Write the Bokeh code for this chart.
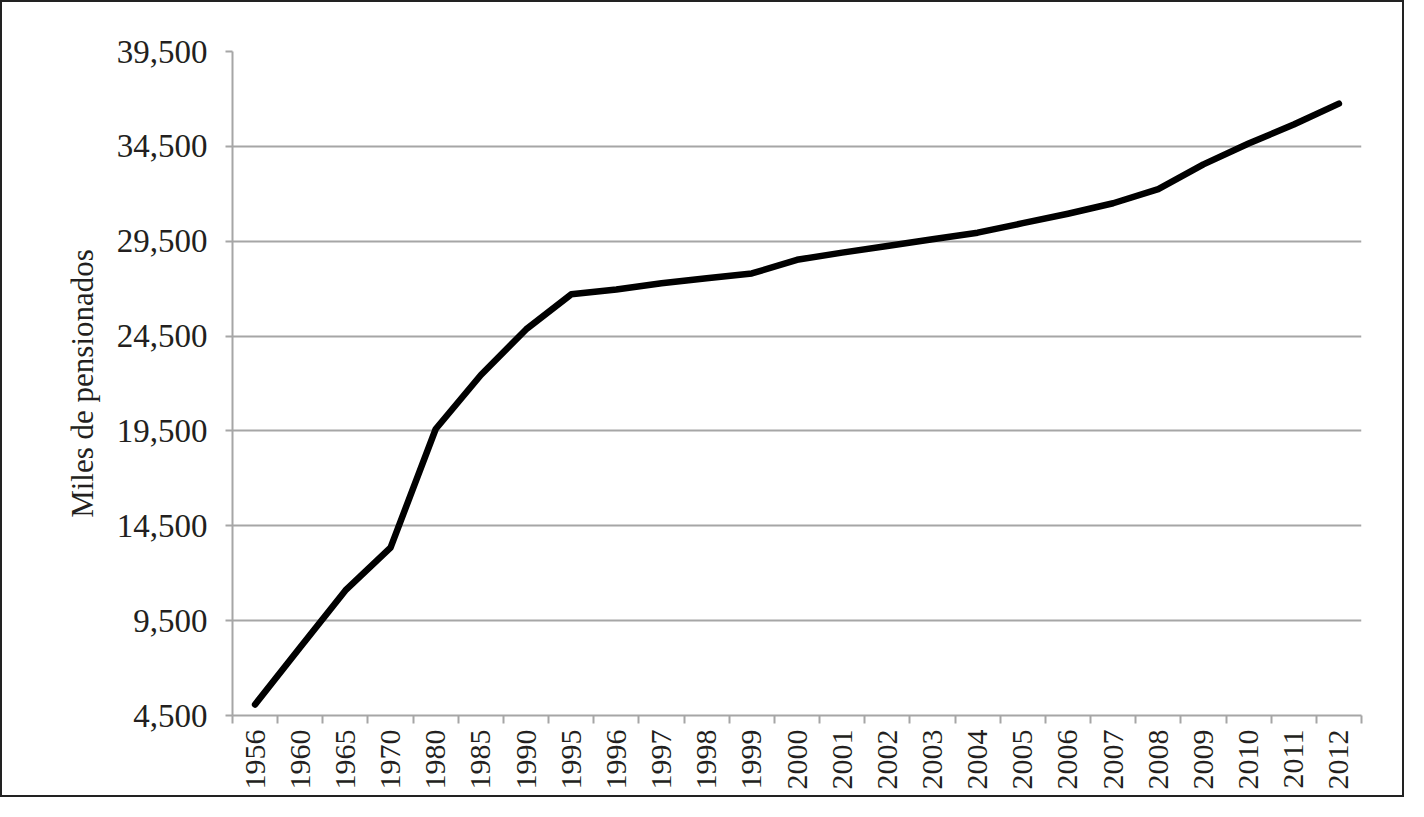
from bokeh.plotting import figure
from bokeh.models import FixedTicker, NumeralTickFormatter, Range1d, ColumnDataSource
from bokeh.embed import file_html
from bokeh.resources import INLINE

years = ["1956", "1960", "1965", "1970", "1980", "1985", "1990", "1995", "1996",
         "1997", "1998", "1999", "2000", "2001", "2002", "2003", "2004", "2005",
         "2006", "2007", "2008", "2009", "2010", "2011", "2012"]
pensionados = [5080, 8100, 11090, 13350, 19600, 22450, 24850, 26700, 26950,
               27280, 27550, 27800, 28520, 28900, 29250, 29600, 29950, 30450,
               30950, 31500, 32250, 33550, 34650, 35650, 36750]
y_ticks = [4500, 9500, 14500, 19500, 24500, 29500, 34500, 39500]

n = len(years)
xpos = [i + 0.5 for i in range(n)]
src = ColumnDataSource(data=dict(x=xpos, y=pensionados, year=years))

FONT = "Liberation Serif"
TXT = "#231f20"
GRID = "#a6a6a6"

p = figure(width=1404, height=797, output_backend="svg", toolbar_location=None,
           x_range=Range1d(0, n), y_range=Range1d(4500, 39500),
           min_border_left=230, min_border_right=45, min_border_top=49, min_border_bottom=84)
p.outline_line_color = None
p.background_fill_color = "white"
p.border_fill_color = "white"
p.styles = {"border": "2px solid #222222"}

p.line("x", "y", source=src, line_color="black", line_width=6.5, line_cap="round", line_join="round")

# x axis: labels at category centres, ticks at category boundaries
p.xaxis.ticker = FixedTicker(ticks=xpos, minor_ticks=list(range(n + 1)))
p.xaxis.major_label_overrides = {x: y for x, y in zip(xpos, years)}
p.xaxis.major_label_orientation = 1.5708
p.xaxis.major_tick_out = 0
p.xaxis.major_tick_in = 0
p.xaxis.minor_tick_out = 8
p.xaxis.minor_tick_in = 0
p.xaxis.minor_tick_line_color = GRID
p.xaxis.minor_tick_line_width = 2
p.xaxis.axis_line_color = GRID
p.xaxis.axis_line_width = 2
p.xaxis.major_label_text_font = FONT
p.xaxis.major_label_text_font_size = "30px"
p.xaxis.major_label_text_color = TXT
p.xaxis.major_label_standoff = 6

p.yaxis.ticker = FixedTicker(ticks=y_ticks)
p.yaxis.formatter = NumeralTickFormatter(format="0,0")
p.yaxis.major_tick_out = 7
p.yaxis.major_tick_in = 0
p.yaxis.major_tick_line_color = GRID
p.yaxis.major_tick_line_width = 2
p.yaxis.minor_tick_line_color = None
p.yaxis.axis_line_color = GRID
p.yaxis.axis_line_width = 2
p.yaxis.major_label_text_font = FONT
p.yaxis.major_label_text_font_size = "33px"
p.yaxis.major_label_text_color = TXT
p.yaxis.major_label_standoff = 18
p.yaxis.axis_label = "Miles de pensionados"
p.yaxis.axis_label_text_font = FONT
p.yaxis.axis_label_text_font_size = "31px"
p.yaxis.axis_label_text_font_style = "normal"
p.yaxis.axis_label_text_color = TXT
p.yaxis.axis_label_standoff = 14

p.xgrid.grid_line_color = None
p.ygrid.grid_line_color = GRID
p.ygrid.grid_line_width = 2

open("out.html", "w").write(file_html(p, INLINE))
